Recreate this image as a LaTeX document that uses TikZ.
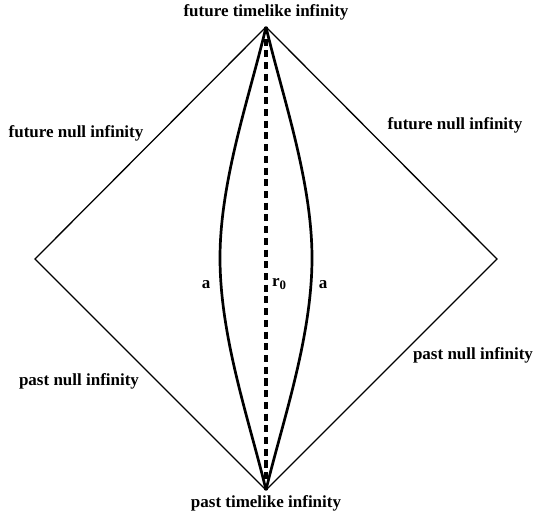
\documentclass[tikz,border=0pt]{standalone}
\usepackage{fontspec}
\setmainfont{Liberation Serif}
\usetikzlibrary{positioning}
\tikzset{
  % conformal boundary
  nullbd/.style={line width=1.1pt,line join=miter},
  % world lines
  wline/.style={line width=2.3pt,line join=round},
  axisln/.style={line width=2.6pt,dash pattern=on 6pt off 4pt},
  % labels
  lbl/.style={font=\fontsize{14.5}{16}\selectfont\bfseries,inner sep=1pt},
}
\begin{document}
\begin{tikzpicture}[x=0.03cm,y=-0.03cm]
\useasboundingbox (0,0) rectangle (534,516);
\coordinate (itop) at (266,27);
\coordinate (ibot) at (266,490);
\coordinate (izl) at (35,259);
\coordinate (izr) at (497,259);
\coordinate (ml) at (220,258);
\coordinate (mr) at (312,258);
% diamond
\draw[nullbd] (itop) -- (izr) -- (ibot) -- (izl) -- cycle;
% the two a-curves and the axis
\draw[wline] (itop) .. controls (250,95) and (220,180) .. (ml)
  .. controls (220,338) and (250,423) .. (ibot);
\draw[wline] (itop) .. controls (282,95) and (312,180) .. (mr)
  .. controls (312,338) and (282,423) .. (ibot);
\draw[axisln] (itop) -- (ibot);
% labels
\node[lbl] (ftl) at (266,12) {future timelike infinity};
\node[lbl] (ptl) at (266,503) {past timelike infinity};
\node[lbl] (fnl) at (76,133) {future null infinity};
\node[lbl] (fnr) at (455,125) {future null infinity};
\node[lbl] (pnl) at (79,381) {past null infinity};
\node[lbl] (pnr) at (473,355) {past null infinity};
\node[lbl] (al) at (206,285) {a};
\node[lbl] (ar) at (323,285) {a};
\node[lbl] (rz) at (279,284) {r\raisebox{-0.5ex}{\fontsize{11}{12}\selectfont 0}};
\end{tikzpicture}
\end{document}
